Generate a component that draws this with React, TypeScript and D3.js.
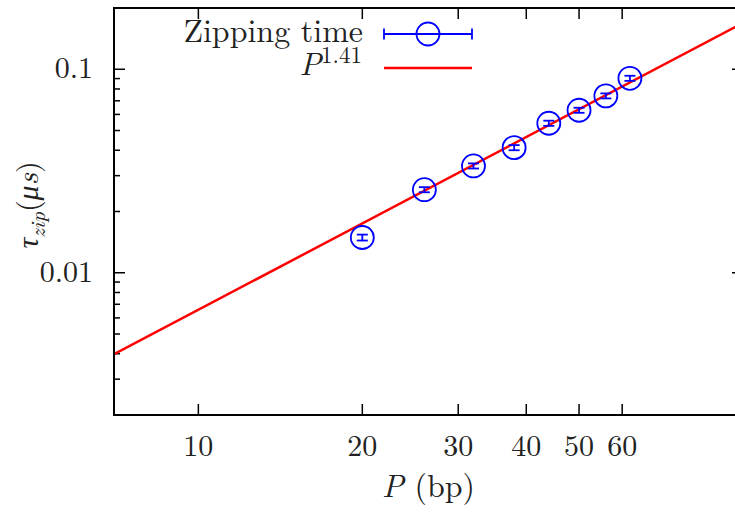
import React from "react";
import * as d3 from "d3";

// ---- data ----
const pValues = [20, 26, 32, 38, 44, 50, 56, 62];
const tauValues = [0.0149, 0.0256, 0.0335, 0.0412, 0.0543, 0.0629, 0.074, 0.0903];
const tauErrors = [0.0005, 0.00074, 0.00097, 0.0012, 0.0016, 0.0018, 0.0021, 0.0026];
const fitAmplitude = 2.558e-4;
const fitExponent = 1.41;
const fitRange = [7, 100];
const xTicks = [10, 20, 30, 40, 50, 60];
const yMajorTicks = [0.01, 0.1];
const yMinorTicks = [0.003, 0.004, 0.005, 0.006, 0.007, 0.008, 0.009, 0.02, 0.03, 0.04, 0.05, 0.06, 0.07, 0.08, 0.09];
const legendLabels = ["Zipping time", "P^1.41"];

const W = 735;
const H = 512;
const L = 114, R = 743, T = 8, B = 415;
const FONT = "'Latin Modern Roman', 'CMU Serif', 'Liberation Serif', serif";
const FS = 30;

export default function App() {
  const x = d3.scaleLog().domain([7, 100]).range([L, R]);
  const y = d3.scaleLog().domain([0.002, 0.2]).range([B, T]);
  const fitPts = fitRange.map((p) => [p, fitAmplitude * Math.pow(p, fitExponent)] as [number, number]);
  const line = d3.line<[number, number]>().x((d) => x(d[0])).y((d) => y(d[1]));
  const major = 11, minor = 6;
  const cap = 5.5;
  const r = 11.5;

  return (
    <svg width={W} height={H} style={{ position: "absolute", left: 0, top: 0, background: "#fff" }} fontFamily={FONT}>
      <defs>
        <clipPath id="plot">
          <rect x={L} y={T} width={R - L} height={B - T} />
        </clipPath>
      </defs>
      <rect x={0} y={0} width={W} height={H} fill="#fff" />
      {/* ticks */}
      <g stroke="#000" strokeWidth={1.5}>
        {xTicks.map((t) => (
          <g key={"xt" + t}>
            <line x1={x(t)} x2={x(t)} y1={B} y2={B - major} />
            <line x1={x(t)} x2={x(t)} y1={T} y2={T + major} />
          </g>
        ))}
        {yMajorTicks.map((t) => (
          <g key={"ym" + t}>
            <line x1={L} x2={L + major} y1={y(t)} y2={y(t)} />
            <line x1={R} x2={R - major} y1={y(t)} y2={y(t)} />
          </g>
        ))}
        {yMinorTicks.map((t) => (
          <g key={"yn" + t}>
            <line x1={L} x2={L + minor} y1={y(t)} y2={y(t)} />
            <line x1={R} x2={R - minor} y1={y(t)} y2={y(t)} />
          </g>
        ))}
      </g>
      {/* tick labels */}
      <g fontSize={FS} fill="#222">
        {xTicks.map((t) => (
          <text key={"xl" + t} x={x(t)} y={456} textAnchor="middle">{t}</text>
        ))}
        {yMajorTicks.map((t) => (
          <text key={"yl" + t} x={93} y={y(t) + 9} textAnchor="end">{String(t)}</text>
        ))}
      </g>
      {/* axis labels */}
      <text x={(L + R) / 2} y={497} textAnchor="middle" fontSize={32} fill="#222">
        <tspan fontStyle="italic">P</tspan>
        <tspan> (bp)</tspan>
      </text>
      <text transform="translate(38,205) rotate(-90)" textAnchor="middle" fontSize={FS} fill="#222">
        <tspan fontStyle="italic">τ</tspan>
        <tspan fontStyle="italic" fontSize={21} dy={7}>zip</tspan>
        <tspan dy={-7}>(</tspan>
        <tspan fontStyle="italic">μs</tspan>
        <tspan>)</tspan>
      </text>
      {/* fit line */}
      <g clipPath="url(#plot)">
        <path d={line(fitPts) || ""} fill="none" stroke="#ff0000" strokeWidth={2.5} />
      </g>
      {/* data */}
      <g stroke="#0000ff" fill="none" strokeWidth={1.8}>
        {pValues.map((p, i) => {
          const cx = x(p);
          const cy = y(tauValues[i]);
          const y1 = y(tauValues[i] - tauErrors[i]);
          const y2 = y(tauValues[i] + tauErrors[i]);
          return (
            <g key={"pt" + i}>
              <line x1={cx} x2={cx} y1={y1} y2={y2} />
              <line x1={cx - cap} x2={cx + cap} y1={y1} y2={y1} />
              <line x1={cx - cap} x2={cx + cap} y1={y2} y2={y2} />
              <circle cx={cx} cy={cy} r={r} />
            </g>
          );
        })}
      </g>
      {/* legend */}
      <g fill="#222">
        <text x={363} y={42} textAnchor="end" fontSize={32}>{legendLabels[0]}</text>
        <text x={362} y={75} textAnchor="end" fontSize={32}>
          <tspan fontStyle="italic">{legendLabels[1].split("^")[0]}</tspan>
          <tspan fontSize={23} dy={-12}>{legendLabels[1].split("^")[1]}</tspan>
        </text>
      </g>
      <g stroke="#0000ff" fill="none" strokeWidth={1.8}>
        <line x1={384} x2={472} y1={34} y2={34} />
        <line x1={384} x2={384} y1={34 - cap} y2={34 + cap} />
        <line x1={472} x2={472} y1={34 - cap} y2={34 + cap} />
        <circle cx={428} cy={34} r={r} />
      </g>
      <line x1={384} x2={472} y1={68} y2={68} stroke="#ff0000" strokeWidth={2.5} />
      {/* frame */}
      <rect x={L} y={T} width={R - L} height={B - T} fill="none" stroke="#000" strokeWidth={2} />
    </svg>
  );
}
